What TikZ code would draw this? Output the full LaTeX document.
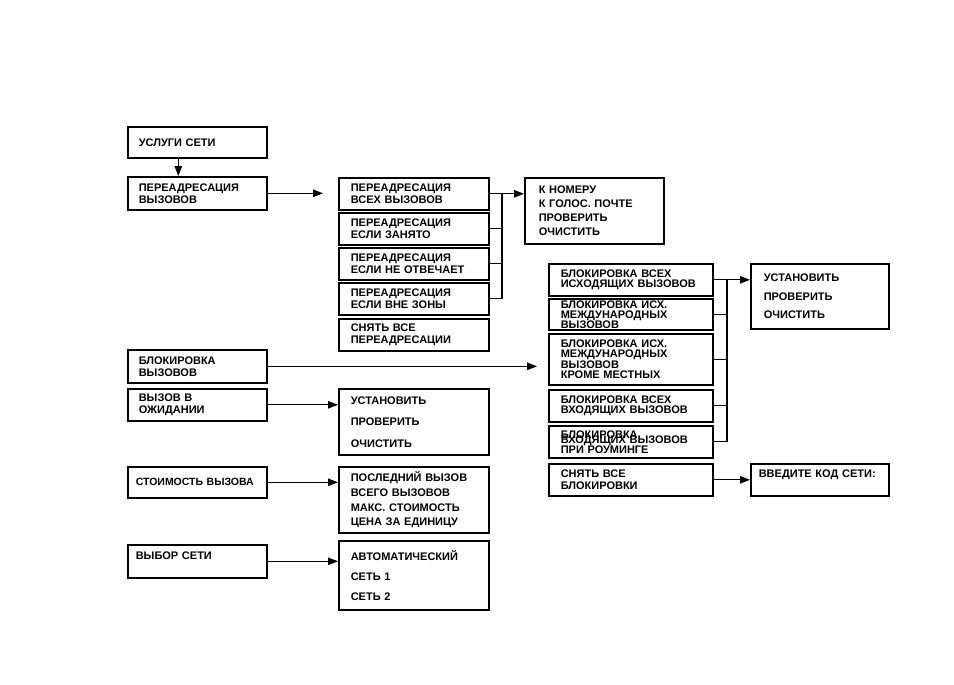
\documentclass[tikz,border=0pt]{standalone}
\usepackage{fontspec}
\setmainfont{Liberation Sans}
\usetikzlibrary{positioning, arrows.meta}

\begin{document}
\begin{tikzpicture}[x=1pt, y=-1pt,
  box/.style={draw, line width=1.6pt, anchor=north west, align=left,
    inner xsep=11pt, inner ysep=0pt, font=\fontsize{11}{12}\selectfont\bfseries},
  leftbox/.style={box, text width=117pt, minimum width=139pt},
  midbox/.style={box, inner xsep=12pt, text width=126pt, minimum width=150pt},
  optbox/.style={box, inner xsep=14pt, text width=111pt, minimum width=139pt},
  blkbox/.style={box, inner xsep=12pt, text width=140pt, minimum width=164pt,
    font=\fontsize{11}{10}\selectfont\bfseries},
  setbox/.style={box, inner xsep=13pt, text width=112pt, minimum width=138pt},
  arrow/.style={-{Triangle[length=10pt,width=7.5pt]}, line width=1.2pt},
  link/.style={line width=1.2pt},
]
  \useasboundingbox (0,0) rectangle (954,685);

  % left column
  \node[leftbox, minimum height=31pt] (net) at (127,126) {УСЛУГИ СЕТИ};
  \node[leftbox, minimum height=33pt] (fwd) at (127,176) {ПЕРЕАДРЕСАЦИЯ\\ ВЫЗОВОВ};
  \node[leftbox, minimum height=33pt] (bar) at (127,349) {БЛОКИРОВКА\\ВЫЗОВОВ};
  \node[leftbox, minimum height=32pt] (wait) at (127,388) {ВЫЗОВ В\\ОЖИДАНИИ};
  \node[leftbox, minimum height=31pt, inner xsep=8pt, text width=123pt,
    font=\fontsize{10.5}{12}\selectfont\bfseries] (cost) at (127,466) {СТОИМОСТЬ ВЫЗОВА};
  \node[leftbox, minimum height=33pt, inner xsep=8pt, text width=123pt, text depth=12pt] (sel) at (127,544) {ВЫБОР СЕТИ};

  % forwarding
  \node[midbox, minimum height=32pt] (fwdall) at (338,177) {ПЕРЕАДРЕСАЦИЯ\\ВСЕХ ВЫЗОВОВ};
  \node[midbox, minimum height=32pt] (fwdbusy) at (338,212) {ПЕРЕАДРЕСАЦИЯ\\ЕСЛИ ЗАНЯТО};
  \node[midbox, minimum height=32pt] (fwdnoans) at (338,247) {ПЕРЕАДРЕСАЦИЯ\\ЕСЛИ НЕ ОТВЕЧАЕТ};
  \node[midbox, minimum height=32pt] (fwdout) at (338,282) {ПЕРЕАДРЕСАЦИЯ\\ЕСЛИ ВНЕ ЗОНЫ};
  \node[midbox, minimum height=32pt] (fwdclr) at (338,318) {СНЯТЬ ВСЕ\\ПЕРЕАДРЕСАЦИИ};
  \node[optbox, minimum height=66pt] (fwdopt) at (524,177)
    {К НОМЕРУ\\[2pt]К ГОЛОС. ПОЧТЕ\\[2pt]ПРОВЕРИТЬ\\[2pt]ОЧИСТИТЬ};

  % call waiting, cost, network
  \node[midbox, minimum height=66pt] (waitopt) at (338,388)
    {УСТАНОВИТЬ\\[9.5pt]ПРОВЕРИТЬ\\[9.5pt]ОЧИСТИТЬ};
  \node[midbox, minimum height=66pt] (costopt) at (338,466)
    {ПОСЛЕДНИЙ ВЫЗОВ\\[2.7pt]ВСЕГО ВЫЗОВОВ\\[2.7pt]МАКС. СТОИМОСТЬ\\[2.7pt]ЦЕНА ЗА ЕДИНИЦУ};
  \node[midbox, minimum height=69pt] (selopt) at (338,540)
    {АВТОМАТИЧЕСКИЙ\\[8pt]СЕТЬ 1\\[8pt]СЕТЬ 2};

  % barring
  \node[blkbox, minimum height=32pt] (barout) at (548,263) {БЛОКИРОВКА ВСЕХ\\ИСХОДЯЩИХ ВЫЗОВОВ};
  \node[blkbox, minimum height=31pt] (barint) at (548,298) {БЛОКИРОВКА ИСХ.\\МЕЖДУНАРОДНЫХ\\ВЫЗОВОВ};
  \node[blkbox, minimum height=51pt, font=\fontsize{11}{10.5}\selectfont\bfseries] (barintx) at (548,333) {БЛОКИРОВКА ИСХ.\\МЕЖДУНАРОДНЫХ\\ВЫЗОВОВ\\КРОМЕ МЕСТНЫХ};
  \node[blkbox, minimum height=32pt] (barin) at (548,389) {БЛОКИРОВКА ВСЕХ\\ВХОДЯЩИХ ВЫЗОВОВ};
  \node[blkbox, minimum height=32pt] (barroam) at (548,425) {БЛОКИРОВКА\\[-5pt]ВХОДЯЩИХ ВЫЗОВОВ\\ПРИ РОУМИНГЕ};
  \node[blkbox, minimum height=32pt, font=\fontsize{11}{12}\selectfont\bfseries] (barclr) at (548,463) {СНЯТЬ ВСЕ\\БЛОКИРОВКИ};
  \node[setbox, minimum height=65pt] (baropt) at (750,263)
    {УСТАНОВИТЬ\\[6.5pt]ПРОВЕРИТЬ\\[6.5pt]ОЧИСТИТЬ};
  \node[setbox, minimum height=32pt, inner xsep=8pt, text width=122pt, text depth=12pt] (barcode) at (750,463) {ВВЕДИТЕ КОД СЕТИ:};

  \coordinate (fj) at (502,0);
  \coordinate (bj) at (727,0);

  % connectors
  \draw[arrow] ([xshift=-19pt]net.south) -- ([xshift=-19pt]fwd.north);
  \draw[arrow, shorten >=15pt] (fwd.east) -- (fwd.east -| fwdall.west);
  \foreach \n in {fwdall, fwdbusy, fwdnoans, fwdout}
    \draw[link] (\n.east) -- (\n.east -| fj);
  \draw[link] (fwdall.east -| fj) -- (fwdout.east -| fj);
  \draw[arrow] (fwdall.east -| fj) -- (fwdopt.west |- fwdall.east);

  \draw[arrow, shorten >=11pt] (bar.east) -- (bar.east -| barintx.west);
  \foreach \n in {barout, barint, barintx, barin, barroam}
    \draw[link] (\n.east) -- (\n.east -| bj);
  \draw[link] (barout.east -| bj) -- (barroam.east -| bj);
  \draw[arrow] (barout.east -| bj) -- (baropt.west |- barout.east);
  \draw[arrow] (barclr.east) -- (barclr.east -| barcode.west);

  \draw[arrow] (wait.east) -- (wait.east -| waitopt.west);
  \draw[arrow] (cost.east) -- (cost.east -| costopt.west);
  \draw[arrow] (sel.east) -- (sel.east -| selopt.west);
\end{tikzpicture}
\end{document}
